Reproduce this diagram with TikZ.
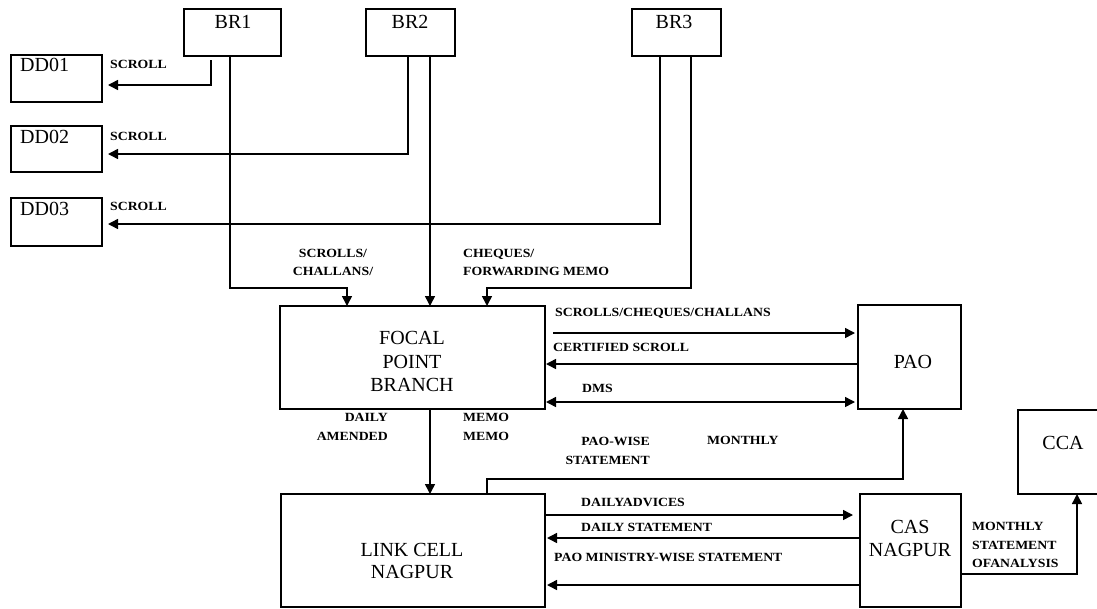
\documentclass[tikz,border=0pt]{standalone}
\usepackage{fontspec}
\setmainfont{Liberation Serif}
\usepackage{graphicx}
\usetikzlibrary{arrows.meta}
\newcommand{\sx}[1]{\scalebox{1.1}[1]{#1}}
\begin{document}
\begin{tikzpicture}[x=1pt,y=-1pt,
  box/.style={draw,line width=1.5pt,inner sep=0pt,outer sep=0pt,anchor=north west},
  btxt/.style={font=\fontsize{20}{23.5}\selectfont,inner sep=0pt,align=center},
  lbl/.style={font=\fontsize{12.5}{18.5}\selectfont\bfseries,inner sep=0pt},
  arr/.style={line width=1.5pt,-{Triangle[length=10pt,width=10pt]}},
  darr/.style={line width=1.5pt,{Triangle[length=10pt,width=10pt]}-{Triangle[length=10pt,width=10pt]}}]
\useasboundingbox (0,0) rectangle (1097,608);
% boxes
\node[box,minimum width=97pt,minimum height=47pt] (br1) at (184,9) {};
\node[box,minimum width=89pt,minimum height=47pt] (br2) at (366,9) {};
\node[box,minimum width=89pt,minimum height=47pt] (br3) at (632,9) {};
\node[box,minimum width=91pt,minimum height=47pt] (dd1) at (11,55) {};
\node[box,minimum width=91pt,minimum height=46pt] (dd2) at (11,126) {};
\node[box,minimum width=91pt,minimum height=48pt] (dd3) at (11,198) {};
\node[box,minimum width=265pt,minimum height=103pt] (fpb) at (280,306) {};
\node[box,minimum width=103pt,minimum height=104pt] (pao) at (858,305) {};
\node[box,minimum width=92pt,minimum height=84pt] (cca) at (1018,410) {};
\node[box,minimum width=264pt,minimum height=113pt] (lc) at (281,494) {};
\node[box,minimum width=101pt,minimum height=113pt] (cas) at (860,494) {};
% box texts
\node[btxt] (tbr1) at (233,22) {BR1};
\node[btxt] (tbr2) at (410,22) {BR2};
\node[btxt] (tbr3) at (674,22) {BR3};
\node[btxt,anchor=west] (tdd1) at (20,65) {DD01};
\node[btxt,anchor=west] (tdd2) at (20,137) {DD02};
\node[btxt,anchor=west] (tdd3) at (20,209) {DD03};
\node[btxt] (tfpb) at (412,361.5) {FOCAL\\POINT\\BRANCH};
\node[btxt] (tpao) at (913,362) {PAO};
\node[btxt,font=\fontsize{20}{22}\selectfont] (tlc) at (412,561) {LINK CELL\\NAGPUR};
\node[btxt,font=\fontsize{20}{23}\selectfont] (tcas) at (910,538.5) {CAS\\NAGPUR};
\node[btxt] (tcca) at (1063,443) {CCA};
% labels
\node[lbl,anchor=west] (l1) at (110,64) {\sx{SCROLL}};
\node[lbl,anchor=west] (l2) at (110,136) {\sx{SCROLL}};
\node[lbl,anchor=west] (l3) at (110,206) {\sx{SCROLL}};
\node[lbl,align=center] (l4) at (333,262.5) {\sx{SCROLLS/}\\\sx{CHALLANS/}};
\node[lbl,align=left,anchor=west] (l5) at (463,262.5) {\sx{CHEQUES/}\\\sx{FORWARDING MEMO}};
\node[lbl,anchor=west] (l6) at (555,313) {\sx{SCROLLS/CHEQUES/CHALLANS}};
\node[lbl,anchor=west] (l7) at (553,347) {\sx{CERTIFIED SCROLL}};
\node[lbl,anchor=west] (l8) at (582,388) {\sx{DMS}};
\node[lbl,align=right,anchor=east] (l9) at (388,427) {\sx{DAILY}\\\sx{AMENDED}};
\node[lbl,align=left,anchor=west] (l10) at (463,427) {\sx{MEMO}\\\sx{MEMO}};
\node[lbl,align=right,anchor=east] (l11) at (650,451) {\sx{PAO-WISE}\\\sx{STATEMENT}};
\node[lbl,anchor=west] (l12) at (707,440) {\sx{MONTHLY}};
\node[lbl,anchor=west] (l13) at (581,502) {\sx{DAILYADVICES}};
\node[lbl,anchor=west] (l14) at (581,527) {\sx{DAILY STATEMENT}};
\node[lbl,anchor=west] (l15) at (554,557) {\sx{PAO MINISTRY-WISE STATEMENT}};
\node[lbl,align=left,anchor=west] (l16) at (972,545) {\sx{MONTHLY}\\\sx{STATEMENT}\\\sx{OFANALYSIS}};
% bend coordinates
\coordinate (a1) at (211,85);
\coordinate (a2) at (408,154);
\coordinate (a3) at (660,224);
\coordinate (b1) at (230,288);
\coordinate (b1e) at (347,288);
\coordinate (b2) at (430,0);
\coordinate (b3) at (691,288);
\coordinate (b3e) at (487,288);
\coordinate (c7) at (0,333);
\coordinate (c8) at (0,364);
\coordinate (c9) at (0,402);
\coordinate (d1) at (487,479);
\coordinate (d2) at (903,479);
\coordinate (e1) at (0,515);
\coordinate (e2) at (0,538);
\coordinate (e3) at (0,585);
\coordinate (f1) at (1077,574);
% connectors
\draw[arr,shorten <=4pt,shorten >=6pt] (br1.south -| a1) |- (dd1.east |- a1);
\draw[arr,shorten >=6pt] (br2.south -| a2) |- (dd2.east |- a2);
\draw[arr,shorten >=6pt] (br3.south -| a3) |- (dd3.east |- a3);
\draw[arr] (br1.south -| b1) |- (b1e) -- (fpb.north -| b1e);
\draw[arr] (br2.south -| b2) -- (fpb.north -| b2);
\draw[arr] (br3.south -| b3) |- (b3e) -- (fpb.north -| b3e);
\draw[arr,shorten <=8pt,shorten >=3pt] (fpb.east |- c7) -- (pao.west |- c7);
\draw[arr,shorten >=1pt] (pao.west |- c8) -- (fpb.east |- c8);
\draw[darr,shorten <=1pt,shorten >=3pt] (fpb.east |- c9) -- (pao.west |- c9);
\draw[arr] (fpb.south -| b2) -- (lc.north -| b2);
\draw[arr] (lc.north -| d1) |- (d2) -- (pao.south -| d2);
\draw[arr,shorten >=7pt] (lc.east |- e1) -- (cas.west |- e1);
\draw[arr,shorten >=2pt] (cas.west |- e2) -- (lc.east |- e2);
\draw[arr,shorten >=2pt] (cas.west |- e3) -- (lc.east |- e3);
\draw[arr] (cas.east |- f1) -| (cca.south -| f1);
\end{tikzpicture}
\end{document}
